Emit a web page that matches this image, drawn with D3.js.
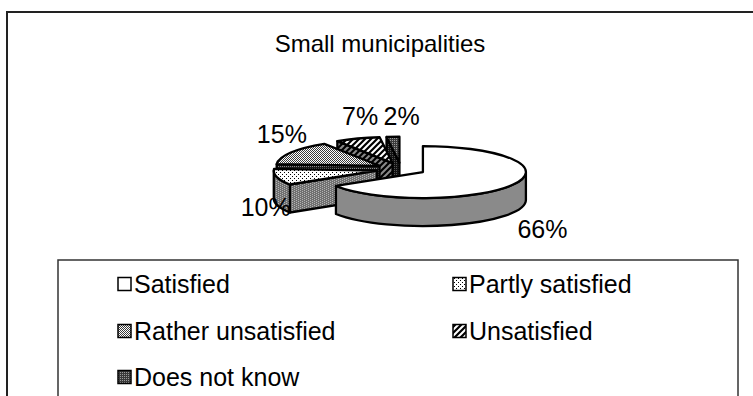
<!DOCTYPE html>
<html>
<head>
<meta charset="utf-8">
<script src="https://cdn.jsdelivr.net/npm/d3@7"></script>
<style>
  html, body { margin: 0; padding: 0; background: #fff; }
  svg { display: block; font-family: "Liberation Sans", Arial, sans-serif; }
</style>
</head>
<body>
<div id="chart"></div>
<script>
// Survey answers, small municipalities
const title = "Small municipalities";
const categories = ["Satisfied", "Partly satisfied", "Rather unsatisfied", "Unsatisfied", "Does not know"];
const values = [66, 10, 15, 7, 2];
const valueLabels = ["66%", "10%", "15%", "7%", "2%"];
const topFills = ["#fff", "url(#pPartlyTop)", "url(#pRatherTop)", "url(#pUnsatTop)", "url(#pDnkTop)"];
const sideFills = ["#8a8a8a", "url(#pPartlySide)", "url(#pRatherSide)", "url(#pUnsatSide)", "url(#pDnkSide)"];

const W = 753, H = 396;
const svg = d3.select("#chart").append("svg").attr("width", W).attr("height", H);
const defs = svg.append("defs");

// pixel patterns: background plus list of [x, y] dots
function dotPattern(id, size, bg, fg, dots) {
  const p = defs.append("pattern").attr("id", id)
    .attr("patternUnits", "userSpaceOnUse").attr("width", size[0]).attr("height", size[1]);
  p.append("rect").attr("width", size[0]).attr("height", size[1]).attr("fill", bg);
  dots.forEach(d => p.append("rect").attr("x", d[0]).attr("y", d[1])
    .attr("width", 1).attr("height", 1).attr("fill", fg).attr("shape-rendering", "crispEdges"));
}
function stripePattern(id, bg, fg) {
  const p = defs.append("pattern").attr("id", id)
    .attr("patternUnits", "userSpaceOnUse").attr("width", 6).attr("height", 6);
  p.append("rect").attr("width", 6).attr("height", 6).attr("fill", bg);
  p.append("path").attr("d", "M-3,3 L3,-3 M0,6 L6,0 M3,9 L9,3")
    .attr("stroke", fg).attr("stroke-width", 2.2);
}
dotPattern("pPartlyTop", [4, 4], "#fff", "#000", [[0, 0], [2, 2]]);
dotPattern("pPartlySide", [4, 4], "#707070", "#b4b4b4", [[0, 0], [2, 1], [0, 2], [2, 3]]);
dotPattern("pRatherTop", [2, 2], "#fff", "#3a3a3a", [[0, 0], [1, 1]]);
dotPattern("pRatherSide", [2, 2], "#1a1a1a", "#8a8a8a", [[0, 0]]);
stripePattern("pUnsatTop", "#fff", "#000");
stripePattern("pUnsatSide", "#8a8a8a", "#000");
dotPattern("pDnkTop", [2, 2], "#3a3a3a", "#9a9a9a", [[0, 0]]);
dotPattern("pDnkSide", [2, 2], "#111", "#555", [[0, 0]]);

// chart frame and title
svg.append("rect").attr("x", 7).attr("y", 12).attr("width", W + 10).attr("height", H + 10)
  .attr("fill", "none").attr("stroke", "#222").attr("stroke-width", 2);
svg.append("text").attr("x", 380).attr("y", 52).attr("text-anchor", "middle")
  .attr("font-size", 24).attr("fill", "#000").text(title);

// 3-D exploded pie geometry
const cx = 401, cy = 169, rx = 103, ry = 26, depth = 28, explode = 25;
const plotTop = 107;
const deg = Math.PI / 180;
const pie = d3.pie().sort(null).value(d => d).startAngle(0).endAngle(2 * Math.PI);
const arcs = pie(values).map((a, i) => {
  const mid = (a.startAngle + a.endAngle) / 2;
  return {
    i, a0: a.startAngle, a1: a.endAngle, mid,
    ox: cx + explode * Math.sin(mid),
    oy: cy - explode * (ry / rx) * Math.cos(mid)
  };
});
const rim = (s, a, dz = 0) => [s.ox + rx * Math.sin(a), s.oy - ry * Math.cos(a) + dz];

function topPath(s) {
  const p0 = rim(s, s.a0), p1 = rim(s, s.a1);
  const large = (s.a1 - s.a0) > Math.PI ? 1 : 0;
  return `M${s.ox},${s.oy} L${p0} A${rx},${ry} 0 ${large} 1 ${p1} Z`;
}
function sidePath(s) {
  const a = Math.max(s.a0, 90 * deg), b = Math.min(s.a1, 270 * deg);
  if (b <= a) return null;
  const p0 = rim(s, a), p1 = rim(s, b), q1 = rim(s, b, depth), q0 = rim(s, a, depth);
  return `M${p0} A${rx},${ry} 0 0 1 ${p1} L${q1} A${rx},${ry} 0 0 0 ${q0} Z`;
}
function startFacePath(s) {
  if (!(Math.sin(s.a0) < -1e-6)) return null;
  const p = rim(s, s.a0), q = rim(s, s.a0, depth);
  return `M${s.ox},${s.oy} L${p} L${q} L${s.ox},${s.oy + depth} Z`;
}

// paint from the back to the front
const order = arcs.slice().sort((u, v) => (-Math.cos(u.mid)) - (-Math.cos(v.mid)));
const gPie = svg.append("g").attr("stroke", "#000").attr("stroke-width", 2.3)
  .attr("stroke-linejoin", "round");
order.forEach(s => {
  const g = gPie.append("g");
  const f = startFacePath(s);
  if (f) g.append("path").attr("d", f).attr("fill", sideFills[s.i]);
  const sd = sidePath(s);
  if (sd) g.append("path").attr("d", sd).attr("fill", sideFills[s.i]);
  g.append("path").attr("d", topPath(s)).attr("fill", topFills[s.i]);
});

// value labels outside each slice
const labelFont = 25;
const gLab = svg.append("g").attr("font-size", labelFont).attr("fill", "#000");
arcs.forEach(s => {
  const x = s.ox + (rx + 22) * Math.sin(s.mid) + 10;
  let y = s.oy - (ry + 64) * Math.cos(s.mid) + depth / 2;
  y = Math.max(y, plotTop + labelFont * 0.35);
  gLab.append("text").attr("x", x).attr("y", y).attr("dy", "0.36em")
    .attr("text-anchor", "middle").text(valueLabels[s.i]);
});

// legend
svg.append("rect").attr("x", 58).attr("y", 260).attr("width", 680).attr("height", 160)
  .attr("fill", "#fff").attr("stroke", "#333").attr("stroke-width", 1.5);
const legX = [118, 453], legY = [284, 331, 377];
const gLeg = svg.append("g").attr("font-size", 25);
categories.forEach((c, i) => {
  const x = legX[i % 2], y = legY[Math.floor(i / 2)];
  gLeg.append("rect").attr("x", x).attr("y", y - 6.5).attr("width", 13).attr("height", 13)
    .attr("fill", topFills[i]).attr("stroke", "#000").attr("stroke-width", 1.5);
  gLeg.append("text").attr("x", x + 16).attr("y", y).attr("dy", "0.36em").text(c);
});
</script>
</body>
</html>
